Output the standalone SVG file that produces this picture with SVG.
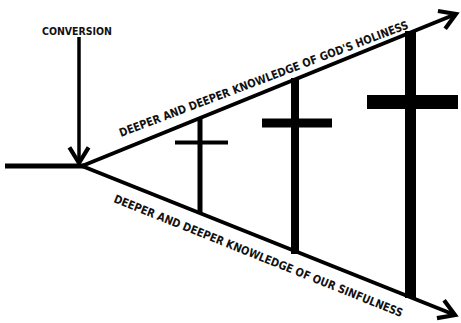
<svg xmlns="http://www.w3.org/2000/svg" width="461" height="323" viewBox="0 0 461 323">
  <defs>
    <style>
      .ln { stroke: #000; fill: none; stroke-linecap: butt; }
      .bar { fill: #000; }
      .lbl { font-family: "DejaVu Sans Condensed", "Liberation Sans Narrow", "Liberation Sans", sans-serif; font-weight: bold; fill: #111; }
    </style>
    <marker id="vhead" markerUnits="userSpaceOnUse" markerWidth="24" markerHeight="24" refX="16" refY="10" orient="auto" viewBox="0 0 20 20">
      <polyline points="3,2 16,10 3,18" fill="none" stroke="#000" stroke-width="3.5" stroke-linejoin="miter"/>
    </marker>
  </defs>
  <rect width="461" height="323" fill="#fff"/>

  <g id="connectors">
    <line class="ln" x1="5" y1="166" x2="84" y2="166" stroke-width="5"/>
    <line class="ln" x1="79" y1="37" x2="79" y2="163" stroke-width="3.5" marker-end="url(#vhead)"/>
    <line class="ln" x1="82" y1="166" x2="456" y2="14" stroke-width="4" marker-end="url(#vhead)"/>
    <line class="ln" x1="82" y1="166" x2="455" y2="315" stroke-width="4" marker-end="url(#vhead)"/>
  </g>

  <g id="conversion">
    <text class="lbl" x="42" y="35" font-size="11" textLength="70" lengthAdjust="spacingAndGlyphs">CONVERSION</text>
  </g>

  <g id="holiness-label">
    <text class="lbl" transform="translate(121,137) rotate(-20.7)" font-size="11.5" textLength="308" lengthAdjust="spacingAndGlyphs">DEEPER AND DEEPER KNOWLEDGE OF GOD'S HOLINESS</text>
  </g>

  <g id="sinfulness-label">
    <text class="lbl" transform="translate(113,202) rotate(21.8)" font-size="11.5" textLength="310" lengthAdjust="spacingAndGlyphs">DEEPER AND DEEPER KNOWLEDGE OF OUR SINFULNESS</text>
  </g>

  <g id="cross-small">
    <rect class="bar" x="197.5" y="117" width="5" height="97"/>
    <rect class="bar" x="175" y="140.5" width="53" height="4"/>
  </g>

  <g id="cross-medium">
    <rect class="bar" x="291" y="78" width="8" height="176"/>
    <rect class="bar" x="262" y="118.5" width="70" height="9"/>
  </g>

  <g id="cross-large">
    <rect class="bar" x="405" y="31" width="11" height="267"/>
    <rect class="bar" x="367" y="95" width="91" height="14"/>
  </g>
</svg>
